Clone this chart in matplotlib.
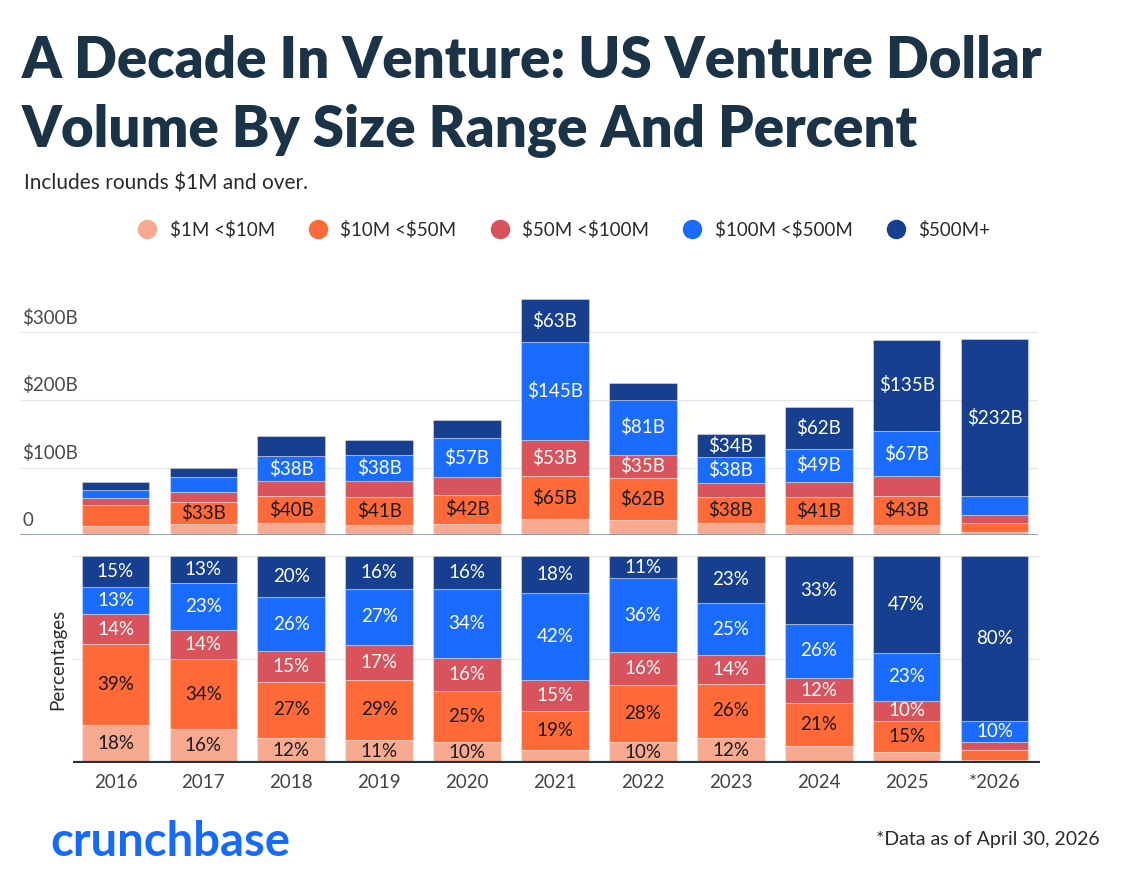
import numpy as np
import matplotlib
matplotlib.use("Agg")
import matplotlib.pyplot as plt
from matplotlib.lines import Line2D

# ---------------- data ----------------
years = ['2016', '2017', '2018', '2019', '2020', '2021', '2022', '2023', '2024', '2025', '*2026']
series_names = ['$1M <$10M', '$10M <$50M', '$50M <$100M', '$100M <$500M', '$500M+']

# dollar volume ($B)
usd_1_10 = [14, 16, 17.5, 15.5, 17, 23, 22, 18, 15, 15, 5]
usd_10_50 = [30.5, 33, 40, 41, 42, 65, 62, 38, 41, 43, 13]
usd_50_100 = [11, 14, 22, 24, 27, 53, 35, 21, 23, 29, 11]
usd_100_500 = [10.5, 23, 38, 38, 57, 145, 81, 38, 49, 67, 29]
usd_500p = [12, 13, 29, 22.5, 27, 63, 25, 34, 62, 135, 232]

# share of yearly volume (%)
pct_1_10 = [18, 16, 12, 11, 10, 6, 10, 12, 8, 5, 1]
pct_10_50 = [39, 34, 27, 29, 25, 19, 28, 26, 21, 15, 5]
pct_50_100 = [14, 14, 15, 17, 16, 15, 16, 14, 12, 10, 4]
pct_100_500 = [13, 23, 26, 27, 34, 42, 36, 25, 26, 23, 10]
pct_500p = [15, 13, 20, 16, 16, 18, 11, 23, 33, 47, 80]

y_ticks = [0, 100, 200, 300]
y_tick_labels = ['0', '$100B', '$200B', '$300B']

colors = ['#F8AA90', '#FF6A38', '#D8535B', '#1A6BFF', '#163F8F']
label_colors = ['#1a1a1a', '#1a1a1a', 'white', 'white', 'white']

# ---------------- figure ----------------
plt.rcParams['text.parse_math'] = False
FONT = 'Lato'
plt.rcParams['font.family'] = [FONT, 'DejaVu Sans']

W, H = 1122, 888
fig = plt.figure(figsize=(W / 100, H / 100), dpi=100)
fig.patch.set_facecolor('white')


def fx(px):
    return px / W


def fy(py):
    return 1 - py / H


def add_axes_px(left, top, right, bottom):
    return fig.add_axes([fx(left), fy(bottom), (right - left) / W, (bottom - top) / H])


x = np.arange(len(years))
bar_w = 0.77
px_per_unit = 87.9

# ---- titles ----
fig.text(fx(22), fy(78), 'A Decade In Venture: US Venture Dollar', fontsize=40.5, fontweight='heavy',
         color='#1B3346', ha='left', va='baseline')
fig.text(fx(22), fy(147), 'Volume By Size Range And Percent', fontsize=40.5, fontweight='heavy',
         color='#1B3346', ha='left', va='baseline')
fig.text(fx(24), fy(189), 'Includes rounds $1M and over.', fontsize=15, color='#2b2b2b',
         ha='left', va='baseline')

# ---- legend ----
handles = [Line2D([0], [0], marker='o', linestyle='none', markersize=13,
                  markerfacecolor=c, markeredgecolor=c) for c in colors]
fig.legend(handles, series_names, loc='center', bbox_to_anchor=(fx(564), fy(230)), ncol=5,
           frameon=False, fontsize=13.5, handlelength=1.0, handletextpad=0.7,
           columnspacing=1.8, labelcolor='#2b2b2b')

# ---- top panel ----
ax1 = add_axes_px(20, 298.75, 1038, 535)
ax1.set_xlim(-1.086, 10.495)
ax1.set_ylim(0, 350)
usd = [np.array(usd_1_10), np.array(usd_10_50), np.array(usd_50_100),
       np.array(usd_100_500), np.array(usd_500p)]
bottom = np.zeros(len(years))
for i, vals in enumerate(usd):
    ax1.bar(x, vals, bar_w, bottom=bottom, color=colors[i], edgecolor=(1, 1, 1, 0.35),
            linewidth=0.8, zorder=3)
    for j, v in enumerate(vals):
        if v >= 32:
            ax1.text(x[j], bottom[j] + v / 2, f'${v:.0f}B', ha='center', va='center',
                     fontsize=13.5, color=label_colors[i], zorder=5)
    bottom = bottom + vals

for t in y_ticks[1:]:
    ax1.axhline(t, color='#e6e6e6', lw=1, zorder=1)
ax1.axhline(0, color='#8c9aab', lw=2, zorder=4)
for t, lab in zip(y_ticks, y_tick_labels):
    ax1.annotate(lab, xy=(0, t), xycoords=('axes fraction', 'data'), xytext=(1.5, 4),
                 textcoords='offset points', ha='left', va='bottom', fontsize=13.5,
                 color='#4a4a4a')
ax1.set_xticks([])
ax1.set_yticks([])
for s in ax1.spines.values():
    s.set_visible(False)
ax1.patch.set_alpha(0)

# ---- bottom panel ----
ax2 = add_axes_px(73, 556, 1040, 762.5)
ax2.set_xlim((73 - 115.5) / px_per_unit, (1040 - 115.5) / px_per_unit)
ax2.set_ylim(0, 100)
pct = [np.array(pct_1_10, float), np.array(pct_10_50, float), np.array(pct_50_100, float),
       np.array(pct_100_500, float), np.array(pct_500p, float)]
tot = sum(pct)
bottom = np.zeros(len(years))
for i, vals in enumerate(pct):
    h = vals / tot * 100
    ax2.bar(x, h, bar_w, bottom=bottom, color=colors[i], edgecolor=(1, 1, 1, 0.35),
            linewidth=0.8, zorder=3)
    for j, v in enumerate(vals):
        if v >= 10:
            ax2.text(x[j], bottom[j] + h[j] / 2, f'{v:.0f}%', ha='center', va='center',
                     fontsize=13.5, color=label_colors[i], zorder=5, clip_on=True)
    bottom = bottom + h

ax2.axhline(50, color='#e6e6e6', lw=1, zorder=1)
ax2.axhline(100, color='#e6e6e6', lw=1, zorder=1)
ax2.axhline(0, color='#1f3447', lw=3, zorder=4)
ax2.set_xticks(x)
ax2.set_xticklabels(years, fontsize=13.5, color='#444444')
ax2.tick_params(axis='x', length=0, pad=8)
ax2.set_yticks([])
for s in ax2.spines.values():
    s.set_visible(False)
ax2.patch.set_alpha(0)
fig.text(fx(58), fy(659), 'Percentages', rotation=90, ha='center', va='center',
         fontsize=13.5, color='#2b2b2b')

# ---- footer ----
fig.text(fx(50), fy(856), 'crunchbase', fontsize=34, fontweight='bold', color='#146AFF',
         ha='left', va='baseline')
fig.text(fx(1100), fy(845), '*Data as of April 30, 2026', fontsize=14, color='#2b2b2b',
         ha='right', va='baseline')

fig.savefig('out.png', dpi=100, facecolor='white')
